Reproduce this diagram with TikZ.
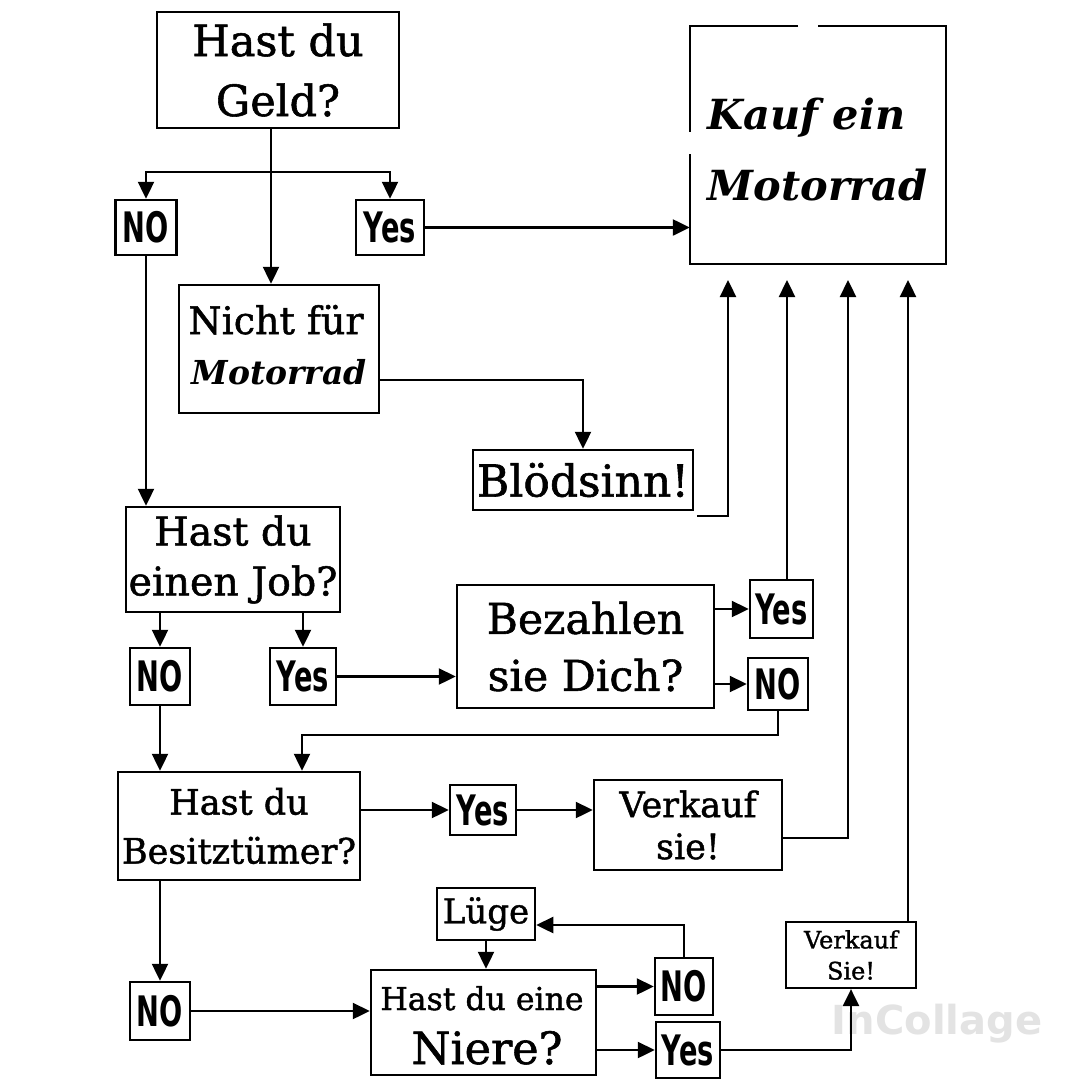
\documentclass[tikz,border=0pt]{standalone}
\usepackage{fontspec}
\setmainfont{DejaVu Serif}
\newfontfamily\slab[FakeBold=1.3]{DejaVu Serif}
\newfontfamily\cond[FakeStretch=0.65]{DejaVu Sans}
\newfontfamily\wm{DejaVu Sans}
\usetikzlibrary{arrows.meta,calc}
\begin{document}
\begin{tikzpicture}[x=1pt,y=-1pt,
  box/.style={draw, line width=2.5pt, inner sep=0pt, align=center, font=\slab},
  lab/.style={draw, line width=2.5pt, inner sep=0pt, font={\cond\bfseries\fontsize{42}{42}\selectfont}},
  arr/.style={line width=2.4pt, -{Triangle[length=17pt,width=16pt]}},
  plain/.style={line width=2.4pt}
]
\useasboundingbox[fill=white] (0,0) rectangle (1069,1080);

% nodes
\node[box, minimum width=242pt, minimum height=116pt, font={\slab\fontsize{43}{60}\selectfont}] (geld) at (278,70) {Hast du\\Geld?};
\node[lab, minimum width=61pt, minimum height=55pt] (no1) at (146,227.5) {NO};
\node[lab, minimum width=68pt, minimum height=55pt] (yes1) at (390,227.5) {Yes};
\node[minimum width=256pt, minimum height=238pt, inner sep=0pt] (kauf) at (818,145) {};
\node[anchor=base west, font={\bfseries\itshape\fontsize{41.5}{41.5}\selectfont}] (kt1) at (704,129) {Kauf ein};
\node[anchor=base west, font={\bfseries\itshape\fontsize{41.5}{41.5}\selectfont}] (kt2) at (704,200) {Motorrad};
\node[box, minimum width=200pt, minimum height=128pt] (nicht) at (279,349) {};
\node[anchor=base, font={\slab\fontsize{38}{38}\selectfont}] (nt1) at (276,334) {Nicht für};
\node[anchor=base, font={\bfseries\itshape\fontsize{33}{33}\selectfont}] (nt2) at (279,384) {Motorrad};
\node[box, minimum width=220pt, minimum height=60pt, font={\slab\fontsize{44}{44}\selectfont}] (blod) at (583,480) {Blödsinn!};
\node[box, minimum width=214pt, minimum height=105pt, font={\slab\fontsize{39.5}{50}\selectfont}] (job) at (233,559.5) {Hast du\\einen Job?};
\node[lab, minimum width=60pt, minimum height=57pt] (no2) at (160,676.5) {NO};
\node[lab, minimum width=66pt, minimum height=57pt] (yes2) at (303,676.5) {Yes};
\node[box, minimum width=257pt, minimum height=123pt, font={\slab\fontsize{42.5}{57}\selectfont}] (bez) at (585.5,646.5) {Bezahlen\\sie Dich?};
\node[lab, minimum width=63pt, minimum height=58pt] (yes3) at (781.5,609) {Yes};
\node[lab, minimum width=60pt, minimum height=52pt] (no3) at (778,684) {NO};
\node[box, minimum width=242pt, minimum height=108pt, font={\slab\fontsize{35}{49}\selectfont}] (bes) at (239,826) {Hast du\\Besitztümer?};
\node[lab, minimum width=66pt, minimum height=50pt] (yes4) at (483,810) {Yes};
\node[box, minimum width=188pt, minimum height=90pt, font={\slab\fontsize{35}{42}\selectfont}] (verk) at (688,825) {Verkauf\\sie!};
\node[lab, minimum width=60pt, minimum height=58pt] (no5) at (160,1011) {NO};
\node[box, minimum width=225pt, minimum height=105pt] (niere) at (483.5,1022.5) {};
\node[anchor=base, font={\slab\fontsize{31.5}{31.5}\selectfont}] (nr1) at (482,1010) {Hast du eine};
\node[anchor=base, font={\slab\fontsize{44.5}{44.5}\selectfont}] (nr2) at (487,1064) {Niere?};
\node[box, minimum width=98pt, minimum height=52pt, font={\slab\fontsize{34}{34}\selectfont}] (luge) at (486,914) {Lüge};
\node[lab, minimum width=58pt, minimum height=57pt] (no6) at (684,986.5) {NO};
\node[lab, minimum width=64pt, minimum height=56pt] (yes6) at (688,1050) {Yes};
\node[box, line width=2.2pt, minimum width=130pt, minimum height=66pt, font={\slab\fontsize{24}{31}\selectfont}] (verk2) at (851,955) {Verkauf\\Sie!};
\node[font={\wm\bfseries\fontsize{40}{40}\selectfont}, text=black!11, draw=none] (wmark) at (937,1024) {InCollage};

% Kauf box outline with its small gaps
\draw[plain] (798,26) -| (690,132);
\draw[plain] (690,154) |- (946,264) |- (818,26);

% coordinates
\coordinate (g1) at (271,172);
\coordinate (k1) at (728,280);
\coordinate (k2) at (787,280);
\coordinate (k3) at (848,280);
\coordinate (k4) at (908,280);
\coordinate (j1) at (302,735);

% connectors
\draw[arr] (geld.south -| g1) -- (nicht.north -| g1);
\draw[arr] (g1) -| (no1.north);
\draw[arr] (g1) -| (yes1.north);
\draw[arr] (yes1.east) -- (yes1.east -| kauf.west);
\draw[arr] (no1.south) -- (no1.south |- job.north);
\draw[arr] ([yshift=-31pt]nicht.east) -| (blod.north);
\draw[arr] ([xshift=3pt,yshift=-5pt]blod.south east) -| (k1);
\draw[arr] (job.south -| no2.north) -- (no2.north);
\draw[arr] (job.south -| yes2.north) -- (yes2.north);
\draw[arr] (yes2.east) -- (yes2.east -| bez.west);
\draw[arr] (bez.east |- yes3.west) -- (yes3.west);
\draw[arr] (bez.east |- no3.west) -- (no3.west);
\draw[arr] (yes3.north -| k2) -- (k2);
\draw[arr] (no3.south) |- (j1) -- (j1 |- bes.north);
\draw[arr] (no2.south) -- (no2.south |- bes.north);
\draw[arr] (bes.east |- yes4.west) -- (yes4.west);
\draw[arr] (yes4.east) -- (yes4.east -| verk.west);
\draw[arr] ([yshift=-13pt]verk.east) -| (k3);
\draw[arr] (bes.south -| no5.north) -- (no5.north);
\draw[arr] (no5.east) -- (no5.east -| niere.west);
\draw[arr] (luge.south) -- (luge.south |- niere.north);
\draw[arr] (niere.east |- no6.west) -- (no6.west);
\draw[arr] (niere.east |- yes6.west) -- (yes6.west);
\draw[arr] (no6.north) |- ([yshift=-11pt]luge.east);
\draw[arr] (yes6.east) -| (verk2.south);
\draw[arr] (verk2.north -| k4) -- (k4);
\end{tikzpicture}
\end{document}
